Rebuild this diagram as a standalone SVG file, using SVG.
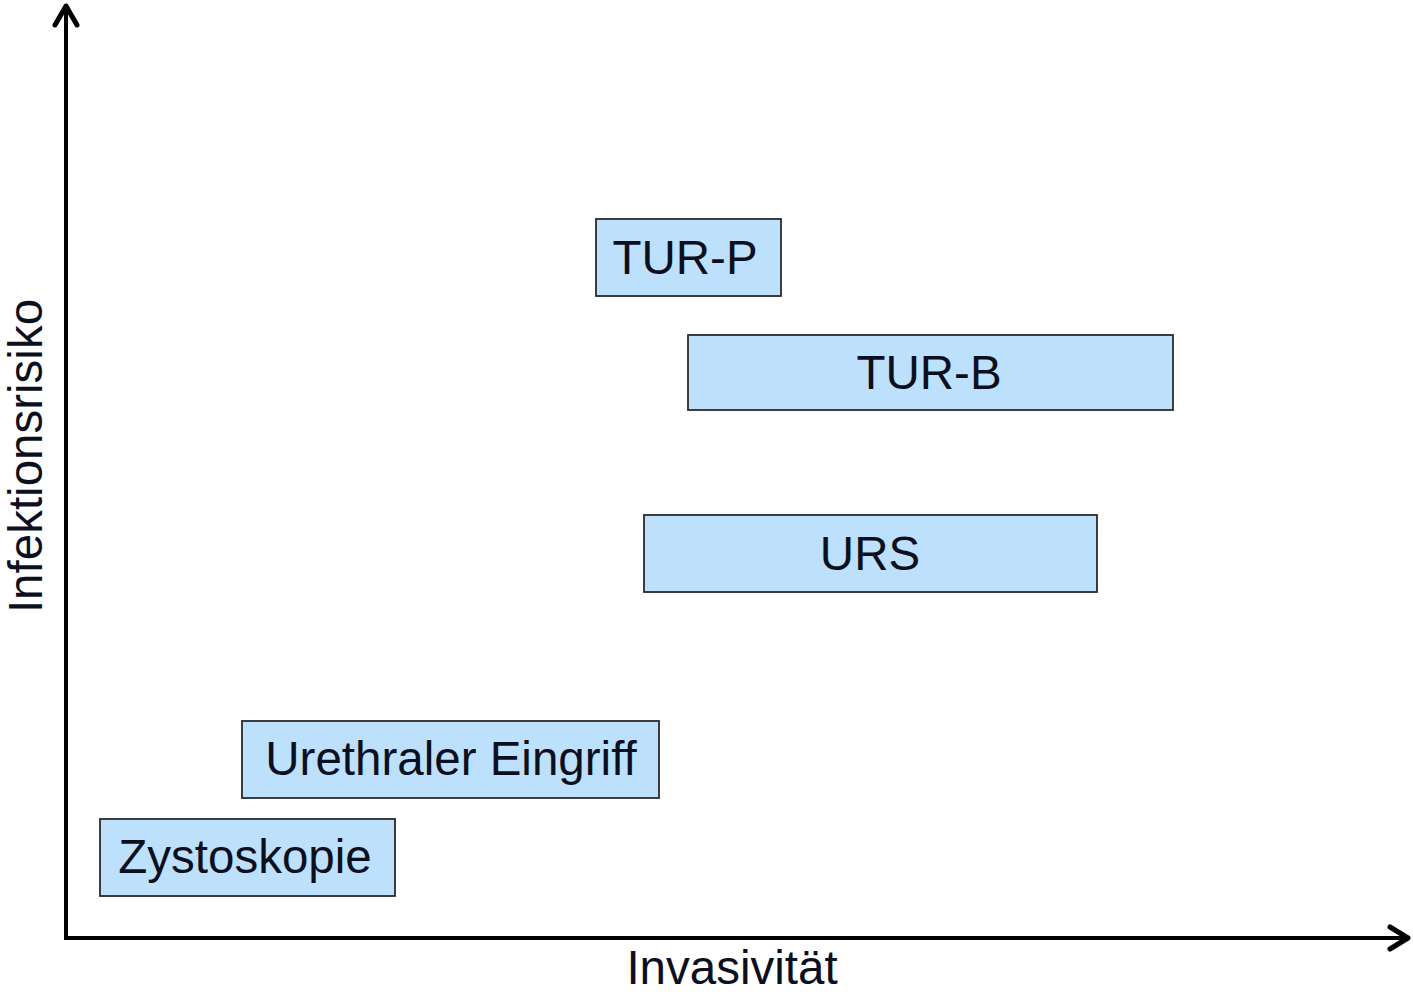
<svg xmlns="http://www.w3.org/2000/svg" width="1413" height="994" viewBox="0 0 1413 994">
<style>
.box{fill:#bde0fd;stroke:#2b2b2b;stroke-width:1.8}
.t{font-family:"Liberation Sans",Arial,sans-serif;font-size:47.5px;fill:#0c0f1e;text-anchor:middle}
.ax{stroke:#000;stroke-width:4;fill:none}
.head{stroke:#000;stroke-width:5;fill:none;stroke-linecap:round;stroke-linejoin:round}
</style>
<rect width="1413" height="994" fill="#fff"/>
<g id="connectors">
<line class="ax" x1="66" y1="938" x2="66" y2="8"/>
<polyline class="head" points="55,25 66,6 77,25"/>
<line class="ax" x1="64" y1="938" x2="1406" y2="938"/>
<polyline class="head" points="1390,927 1408,938 1390,949"/>
</g>
<g id="turp"><rect class="box" x="596" y="219" width="185" height="77"/><text class="t" x="685" y="274">TUR-P</text></g>
<g id="turb"><rect class="box" x="688" y="335" width="485" height="75"/><text class="t" x="929" y="389">TUR-B</text></g>
<g id="urs"><rect class="box" x="644" y="515" width="453" height="77"/><text class="t" x="870" y="570">URS</text></g>
<g id="urethral"><rect class="box" x="242" y="721" width="417" height="77"/><text class="t" x="451" y="775">Urethraler Eingriff</text></g>
<g id="zysto"><rect class="box" x="100" y="819" width="295" height="77"/><text class="t" x="245" y="873">Zystoskopie</text></g>
<g id="xlabel"><text class="t" x="732" y="984">Invasivität</text></g>
<g id="ylabel"><text class="t" transform="translate(42,456) rotate(-90)">Infektionsrisiko</text></g>
</svg>
